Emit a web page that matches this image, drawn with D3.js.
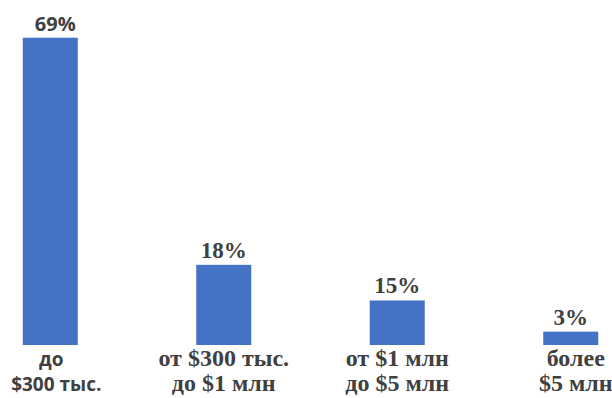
<!DOCTYPE html>
<html><head><meta charset="utf-8">
<script src="https://cdn.jsdelivr.net/npm/d3@7"></script>
<style>body{margin:0;background:#fff}svg{display:block}</style>
</head><body>
<script>
const categories = ["до|$300 тыс.", "от $300 тыс.|до $1 млн", "от $1 млн|до $5 млн", "более|$5 млн"];
const barValues = [69, 18, 10, 3];
const valueLabels = ["69%", "18%", "15%", "3%"];
const labelFonts = ["sans", "serif", "serif", "serif"];

const W = 612, H = 398;
const svg = d3.select("body").append("svg").attr("width", W).attr("height", H);
const baseY = 345;
const x = d3.scaleBand().domain(categories).range([-36.5, 657.5]).paddingInner(0.683).paddingOuter(0.3415);
const y = d3.scaleLinear().domain([0, 69]).range([baseY, 37.7]);
const fam = f => f === "sans" ? "'Open Sans', sans-serif" : "'Liberation Serif', serif";

svg.selectAll("rect.bar").data(categories).join("rect")
  .attr("x", d => x(d)).attr("width", x.bandwidth())
  .attr("y", (d, i) => y(barValues[i])).attr("height", (d, i) => baseY - y(barValues[i]))
  .attr("fill", "#4472C4");

svg.selectAll("text.val").data(categories).join("text")
  .attr("x", (d, i) => x(d) + x.bandwidth() / 2 + (i === 0 ? 5 : 0))
  .attr("y", (d, i) => y(barValues[i]) - 7)
  .attr("text-anchor", "middle")
  .attr("font-family", (d, i) => fam(labelFonts[i]))
  .attr("font-weight", "bold")
  .attr("font-size", (d, i) => labelFonts[i] === "sans" ? 20 : 23)
  .attr("fill", "#404040")
  .text((d, i) => valueLabels[i]);

const cat = svg.selectAll("text.cat").data(categories).join("text")
  .attr("text-anchor", "middle")
  .attr("font-family", (d, i) => fam(labelFonts[i]))
  .attr("font-weight", "bold")
  .attr("font-size", (d, i) => labelFonts[i] === "sans" ? 19 : 24)
  .attr("fill", "#404040");
cat.each(function(d, i) {
  const lines = d.split("|");
  const cx = x(d) + x.bandwidth() / 2 + (i === 0 ? 6 : (i === 3 ? 5 : 0));
  d3.select(this).selectAll("tspan").data(lines).join("tspan")
    .attr("x", (l, j) => cx - (i === 0 && j === 0 ? 5 : 0)).attr("y", (l, j) => 366 + j * 25).text(l => l);
});
</script>
</body></html>
